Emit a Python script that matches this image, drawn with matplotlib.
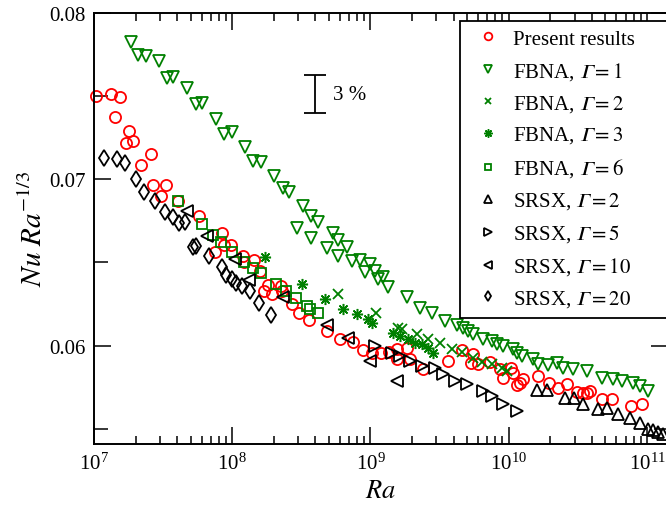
import matplotlib

matplotlib.use("Agg")
import matplotlib.pyplot as plt
import numpy as np
from matplotlib.ticker import LogFormatterMathtext, LogLocator, MultipleLocator

plt.rcParams["font.family"] = ["Liberation Serif", "DejaVu Serif"]
plt.rcParams["mathtext.fontset"] = "stix"
plt.rcParams["font.size"] = 15

# log10(Ra) and Nu Ra^(-1/3) for each data set
present_logra = [7.014, 7.121, 7.188, 7.152, 7.255, 7.231, 7.284, 7.410, 7.340, 7.425,
                 7.521, 7.482, 7.610, 7.760, 7.924, 7.875, 7.940, 7.989, 8.080, 8.085,
                 8.157, 8.201, 8.256, 8.230, 8.285, 8.350, 8.358, 8.430, 8.485, 8.555,
                 8.683, 8.779, 8.871, 8.948, 9.009, 9.074, 9.136, 9.190, 9.266, 9.190,
                 9.286, 9.378, 9.563, 9.660, 9.725, 9.744, 9.780, 9.864, 9.937, 10.016,
                 10.033, 9.961, 10.058, 10.081, 10.105, 10.209, 10.293, 10.358, 10.419, 10.492,
                 10.535, 10.568, 10.588, 10.672, 10.745, 10.882, 10.962]
present_nu = [0.07500, 0.07511, 0.07491, 0.07371, 0.07290, 0.07216, 0.07226, 0.07150, 0.07086, 0.06966,
              0.06964, 0.06900, 0.06871, 0.06780, 0.06676, 0.06560, 0.06604, 0.06605, 0.06536, 0.06503,
              0.06514, 0.06449, 0.06363, 0.06329, 0.06308, 0.06359, 0.06329, 0.06249, 0.06195, 0.06155,
              0.06089, 0.06039, 0.06023, 0.05975, 0.05959, 0.05955, 0.05963, 0.05983, 0.05985, 0.05919,
              0.05919, 0.05863, 0.05909, 0.05975, 0.05899, 0.05949, 0.05889, 0.05903, 0.05859, 0.05869,
              0.05839, 0.05809, 0.05763, 0.05779, 0.05799, 0.05819, 0.05779, 0.05749, 0.05769, 0.05723,
              0.05715, 0.05719, 0.05729, 0.05683, 0.05683, 0.05638, 0.05649]

fbna1_logra = [7.265, 7.320, 7.376, 7.472, 7.526, 7.574, 7.675, 7.738, 7.783, 7.882,
               7.940, 7.996, 8.094, 8.152, 8.206, 8.304, 8.365, 8.413, 8.514, 8.567,
               8.622, 8.466, 8.567, 8.729, 8.767, 8.685, 8.828, 8.767, 8.864, 8.924,
               8.960, 8.996, 9.033, 9.056, 9.093, 9.129, 9.262, 9.358, 9.443, 9.539,
               9.623, 9.671, 9.707, 9.744, 9.816, 9.877, 9.913, 9.961, 10.033, 10.058,
               10.094, 10.178, 10.214, 10.286, 10.347, 10.395, 10.467, 10.564, 10.672, 10.756,
               10.817, 10.901, 10.949, 11.009]
fbna1_nu = [0.07825, 0.07745, 0.07741, 0.07711, 0.07605, 0.07614, 0.07545, 0.07450, 0.07455, 0.07360,
            0.07270, 0.07284, 0.07194, 0.07106, 0.07100, 0.07020, 0.06944, 0.06924, 0.06836, 0.06780,
            0.06744, 0.06704, 0.06649, 0.06676, 0.06635, 0.06589, 0.06590, 0.06536, 0.06509, 0.06515,
            0.06440, 0.06489, 0.06449, 0.06399, 0.06410, 0.06350, 0.06290, 0.06229, 0.06199, 0.06149,
            0.06123, 0.06109, 0.06089, 0.06069, 0.06039, 0.06029, 0.06009, 0.05999, 0.05980, 0.05959,
            0.05939, 0.05919, 0.05889, 0.05885, 0.05899, 0.05869, 0.05859, 0.05849, 0.05809, 0.05799,
            0.05789, 0.05779, 0.05760, 0.05729]

fbna2_logra = [8.767, 9.040, 9.201, 9.226, 9.334, 9.418, 9.503, 9.587, 9.660, 9.744,
               9.804, 9.877, 9.949, 9.985]
fbna2_nu = [0.06309, 0.06199, 0.06109, 0.06099, 0.06069, 0.06039, 0.06015, 0.05980, 0.05963, 0.05929,
            0.05903, 0.05889, 0.05869, 0.05849]

fbna3_logra = [8.237, 8.508, 8.674, 8.803, 8.900, 8.984, 9.009, 9.165, 9.213, 9.273,
               9.322, 9.370, 9.418, 9.454]
fbna3_nu = [0.06530, 0.06369, 0.06283, 0.06219, 0.06189, 0.06159, 0.06139, 0.06079, 0.06059, 0.06039,
            0.06019, 0.06009, 0.05989, 0.05959]

fbna6_logra = [7.610, 7.779, 7.859, 7.916, 7.996, 8.085, 8.152, 8.206, 8.314, 8.389,
               8.459, 8.543, 8.562, 8.618]
fbna6_nu = [0.06871, 0.06730, 0.06664, 0.06620, 0.06563, 0.06503, 0.06464, 0.06435, 0.06368, 0.06329,
            0.06285, 0.06239, 0.06223, 0.06199]

srsx2_logra = [10.202, 10.274, 10.407, 10.472, 10.539, 10.648, 10.713, 10.792, 10.877, 10.949,
               11.009, 11.046, 11.082, 11.118]
srsx2_nu = [0.05735, 0.05735, 0.05689, 0.05689, 0.05649, 0.05619, 0.05629, 0.05589, 0.05569, 0.05539,
            0.05499, 0.05494, 0.05482, 0.05468]

srsx5_logra = [9.033, 9.153, 9.213, 9.286, 9.370, 9.467, 9.527, 9.611, 9.696, 9.816,
               9.877, 9.961, 10.058]
srsx5_nu = [0.05999, 0.05959, 0.05939, 0.05909, 0.05880, 0.05869, 0.05829, 0.05789, 0.05769, 0.05729,
            0.05696, 0.05649, 0.05609]

srsx10_logra = [7.671, 7.815, 8.020, 8.121, 8.369, 8.683, 8.839, 8.996, 9.190]
srsx10_nu = [0.06810, 0.06656, 0.06520, 0.06393, 0.06290, 0.06127, 0.06049, 0.05909, 0.05789]

srsx20_logra = [7.072, 7.164, 7.224, 7.302, 7.364, 7.441, 7.514, 7.569, 7.617, 7.658,
                7.718, 7.738, 7.834, 7.924, 7.955, 7.996, 8.025, 8.068, 8.128, 8.193,
                8.280]
srsx20_nu = [0.07124, 0.07120, 0.07094, 0.07000, 0.06920, 0.06866, 0.06800, 0.06770, 0.06736, 0.06740,
             0.06590, 0.06599, 0.06539, 0.06470, 0.06423, 0.06399, 0.06374, 0.06359, 0.06329, 0.06255,
             0.06185]

# 3 % scale bar
bar_ra = 4.0e8
bar_nu = 0.0751
bar_pct = 3

GAMMA = "\U0001D6E4"  # mathematical italic capital gamma

# data, label, marker, colour, plot marker size, edge width, legend marker size
series = [
    (present_logra, present_nu, "Present results", "o", "red", 8, 1.3, 5.5),
    (fbna1_logra, fbna1_nu, f"FBNA, ${GAMMA} = 1$", "v", "green", 8.5, 1.3, 6),
    (fbna2_logra, fbna2_nu, f"FBNA, ${GAMMA} = 2$", "x", "green", 6.5, 1.3, 5),
    (fbna3_logra, fbna3_nu, f"FBNA, ${GAMMA} = 3$", (8, 2, 0), "green", 8, 1.1, 6),
    (fbna6_logra, fbna6_nu, f"FBNA, ${GAMMA} = 6$", "s", "green", 6.5, 1.3, 4.5),
    (srsx2_logra, srsx2_nu, f"SRSX, ${GAMMA} = 2$", "^", "black", 8.5, 1.3, 6),
    (srsx5_logra, srsx5_nu, f"SRSX, ${GAMMA} = 5$", ">", "black", 8.5, 1.3, 6),
    (srsx10_logra, srsx10_nu, f"SRSX, ${GAMMA} = 10$", "<", "black", 8.5, 1.3, 6),
    (srsx20_logra, srsx20_nu, f"SRSX, ${GAMMA} = 20$", "d", "black", 8.5, 1.3, 5.5),
]

fig = plt.figure(figsize=(6.66, 5.06), dpi=100)
ax = fig.add_axes([94 / 666, 61 / 506, 574 / 666, 431.5 / 506])

for logra, nu, label, marker, color, ms, mew, _ in series:
    ax.plot(10 ** np.asarray(logra), nu, linestyle="none", marker=marker, ms=ms,
            mfc="none", mec=color, mew=mew, label=label, clip_on=False)

ax.errorbar([bar_ra], [bar_nu], yerr=[bar_nu * bar_pct / 200], fmt="none",
            ecolor="black", elinewidth=1.3, capsize=8, capthick=1.3)
ax.text(bar_ra * 1.35, bar_nu, f"{bar_pct} %", va="center", ha="left", fontsize=15)

ax.set_xscale("log")
ax.set_xlim(1e7, 10 ** 11.152)
ax.set_ylim(0.0541, 0.08)
ax.xaxis.set_major_locator(LogLocator(base=10, numticks=10))
ax.xaxis.set_minor_locator(LogLocator(base=10, subs=np.arange(2, 10), numticks=10))
ax.xaxis.set_major_formatter(LogFormatterMathtext())
ax.yaxis.set_major_locator(MultipleLocator(0.01))
ax.yaxis.set_minor_locator(MultipleLocator(0.005))
ax.yaxis.set_major_formatter(plt.FuncFormatter(lambda v, _: f"{v:.2f}"))

ax.tick_params(which="both", direction="in", top=True, right=True, width=1.1, labelsize=15)
ax.tick_params(which="major", length=12, pad=6)
ax.tick_params(axis="x", which="minor", length=6)
ax.tick_params(axis="y", which="minor", length=10)
for sp in ax.spines.values():
    sp.set_linewidth(1.4)

ax.set_xlabel(r"$Ra$", fontsize=19, labelpad=5)
ax.set_ylabel(r"$Nu\ Ra^{-1/3}$", fontsize=21, labelpad=1)

leg = ax.legend(loc="upper left", bbox_to_anchor=(460 / 666, 1 - 21.7 / 506, 0.4, 0),
                bbox_transform=fig.transFigure, mode="expand", borderaxespad=0,
                fancybox=False, edgecolor="black", framealpha=1,
                handlelength=1.9, handletextpad=0.25, labelspacing=0.53, borderpad=0.4,
                fontsize=15)
leg.get_frame().set_linewidth(1.3)
for handle, spec in zip(leg.legend_handles, series):
    handle.set_markersize(spec[7])

fig.savefig("out.png", dpi=100)
